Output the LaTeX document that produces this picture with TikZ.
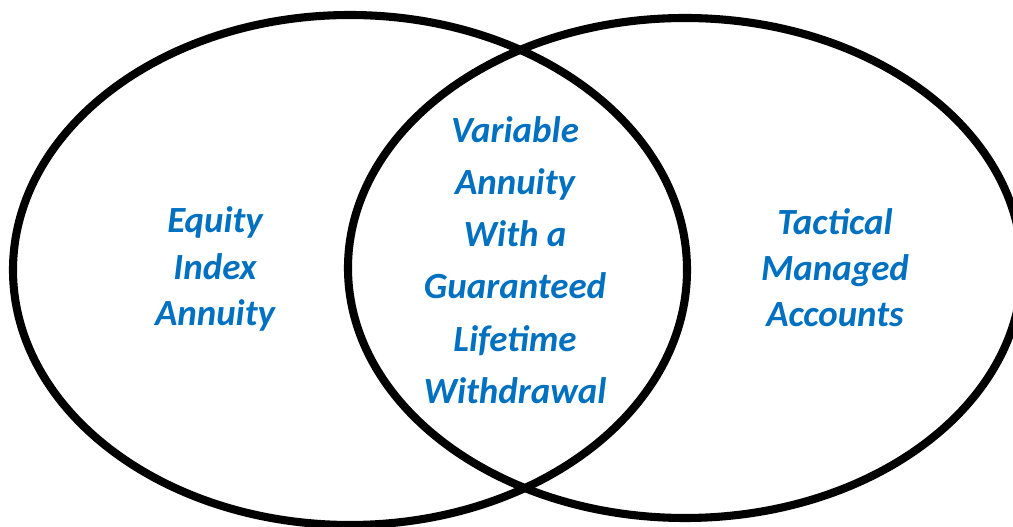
\documentclass[tikz,border=0pt]{standalone}
\usepackage{fontspec}
\setmainfont{Carlito}
\usepackage{tikz}
\usetikzlibrary{shapes.geometric}
\usetikzlibrary{positioning}
\definecolor{labelblue}{HTML}{0070C0}

\begin{document}
\begin{tikzpicture}[
  ring/.style={draw=black, line width=4.6pt, ellipse, inner sep=0pt},
  side label/.style={text=labelblue, align=center,
    font=\fontsize{21}{26.2}\selectfont\bfseries\itshape},
  mid label/.style={text=labelblue, align=center,
    font=\fontsize{21}{29.7}\selectfont\bfseries\itshape}]

  \useasboundingbox (0,0) rectangle (20.26,10.54);

  % Rings
  \node[ring, minimum width=13.48cm, minimum height=10.2cm] (eia) at (7.0,5.14) {};
  \node[ring, minimum width=13.48cm, minimum height=10.0cm] (tma) at (13.7,5.18) {};

  % Labels
  \node[side label] (eialabel) at (4.3,5.16) {Equity\\Index\\Annuity};
  \node[side label] (tmalabel) at (16.7,5.18) {Tactical\\Managed\\Accounts};
  \node[mid label] (valabel) at (10.3,5.34) {Variable\\Annuity\\With a\\Guaranteed\\Lifetime\\Withdrawal};
\end{tikzpicture}
\end{document}
